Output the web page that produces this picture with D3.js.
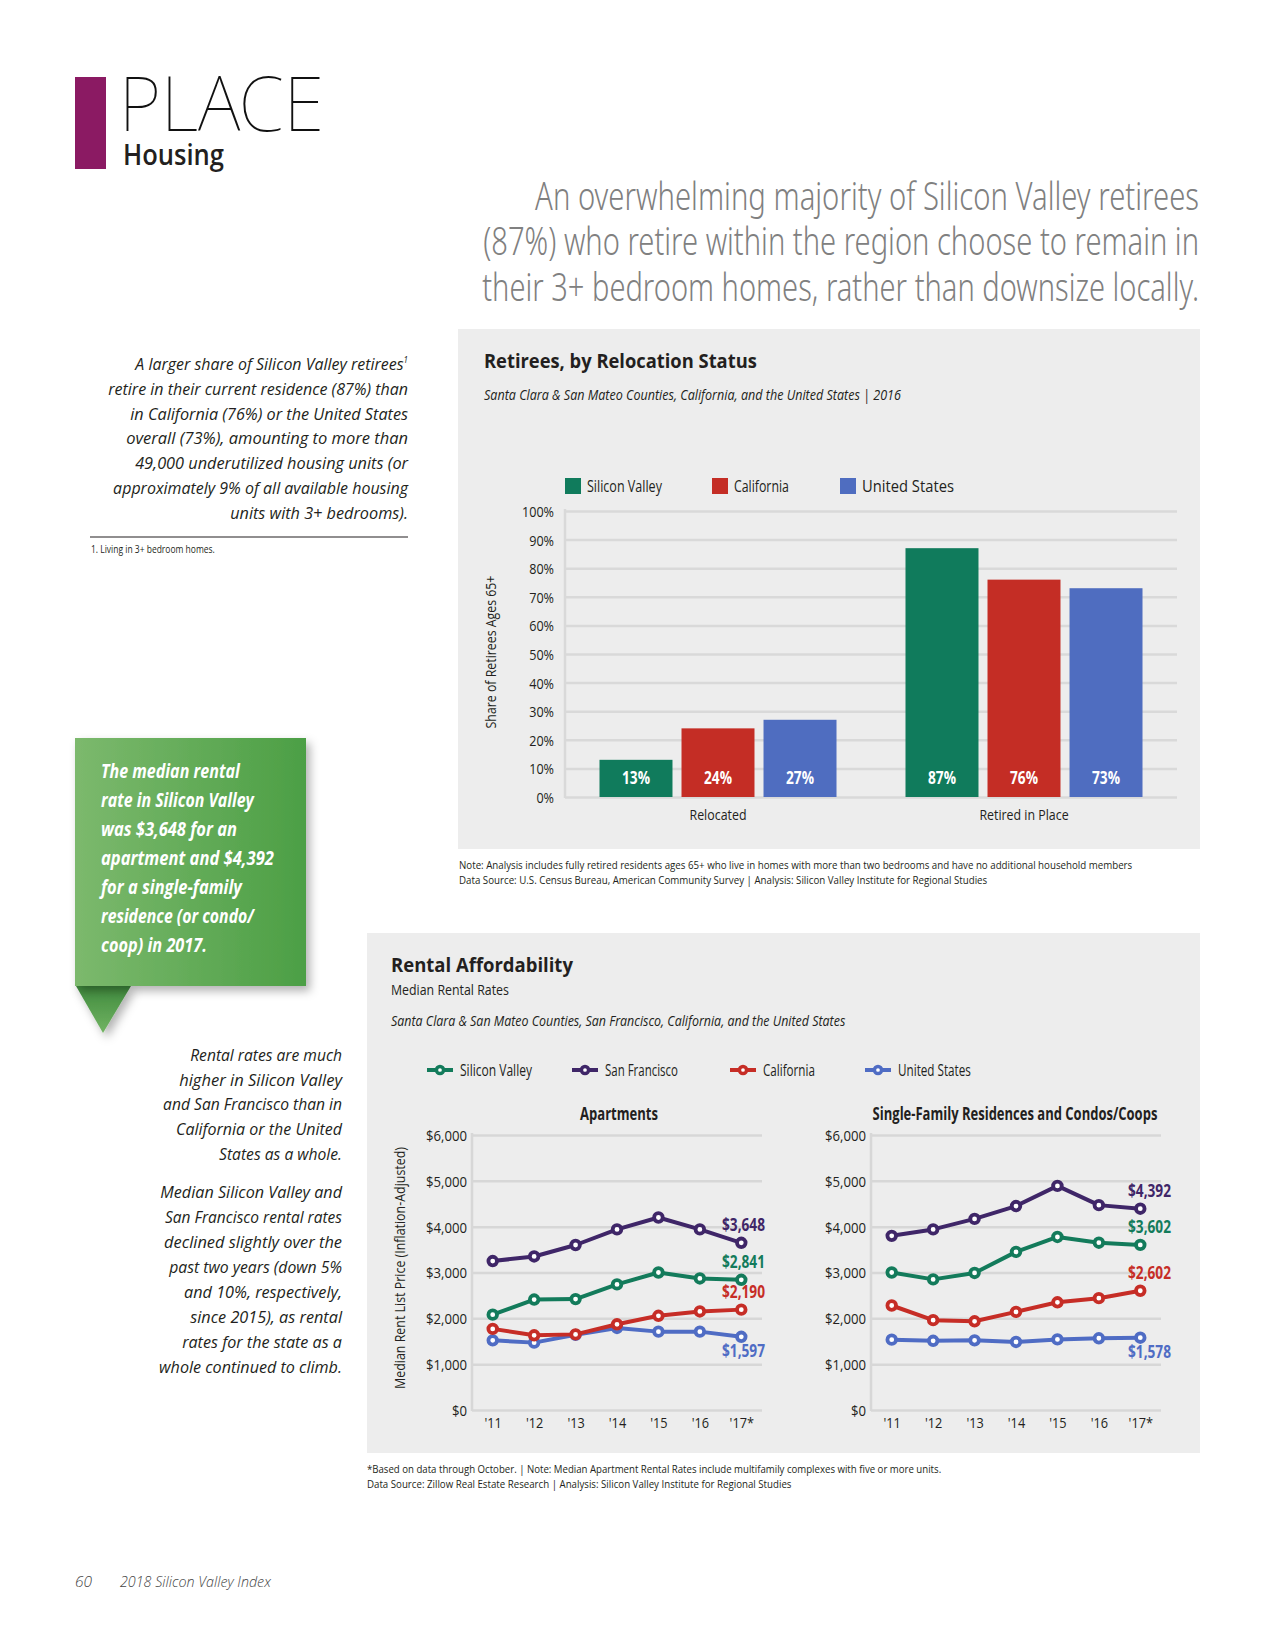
<!DOCTYPE html>
<html><head><meta charset="utf-8">
<script src="https://cdn.jsdelivr.net/npm/d3@7"></script>
<style>body{margin:0;background:#fff}svg{display:block}</style>
</head><body>
<svg id="c" width="1275" height="1650"></svg>
<script>
// ---------- DATA ----------
const barGroups = ["Relocated", "Retired in Place"];
const barSeries = ["Silicon Valley", "California", "United States"];
const barColors = ["#107b5c", "#c42d25", "#4f6dc0"];
const relocatedPct = [13, 24, 27];
const retiredPct = [87, 76, 73];
const pctTicks = [0, 10, 20, 30, 40, 50, 60, 70, 80, 90, 100];

const years = ["'11", "'12", "'13", "'14", "'15", "'16", "'17*"];
const lineSeries = ["Silicon Valley", "San Francisco", "California", "United States"];
const lineColors = ["#137b5b", "#3f2668", "#c62d26", "#4f6cc4"];
const aptSV = [2080, 2410, 2420, 2740, 3000, 2870, 2841];
const aptSF = [3250, 3350, 3600, 3940, 4200, 3940, 3648];
const aptCA = [1770, 1630, 1650, 1870, 2055, 2150, 2190];
const aptUS = [1520, 1470, 1640, 1790, 1710, 1710, 1597];
const sfrSV = [3000, 2850, 2990, 3450, 3775, 3650, 3602];
const sfrSF = [3800, 3940, 4170, 4450, 4890, 4470, 4392];
const sfrCA = [2280, 1960, 1935, 2140, 2350, 2440, 2602];
const sfrUS = [1535, 1510, 1520, 1485, 1540, 1565, 1578];
const rentTicks = [0, 1000, 2000, 3000, 4000, 5000, 6000];

// ---------- HELPERS ----------
const FF = "'Open Sans','Noto Sans',sans-serif";
const svg = d3.select("#c");
svg.append("rect").attr("width", 1275).attr("height", 1650).attr("fill", "#fff");

// horizontal condensing by scaling about the text's anchor point
function scaleNode(node, f) {
  const x = +node.getAttribute("x") || 0, y = +node.getAttribute("y") || 0;
  const pre = node.getAttribute("data-pre") || "";
  node.setAttribute("transform", `${pre} translate(${x},${y}) scale(${f},1) translate(${-x},${-y})`);
}
function fitTo(node, w) { scaleNode(node, w / node.getComputedTextLength()); }
function squeeze(sel, f) { sel.each(function () { scaleNode(this, f); }); }

function T(p, x, y, s, o = {}) {
  const t = p.append("text").attr("x", x).attr("y", y).text(s)
    .attr("font-family", o.ff || FF).attr("font-size", o.fs || 14)
    .attr("font-weight", o.fw || 400).attr("font-style", o.it ? "italic" : "normal")
    .attr("fill", o.fill || "#231f20").attr("text-anchor", o.anchor || "start");
  if (o.pre) t.attr("data-pre", o.pre);
  if (o.sup) t.append("tspan").attr("font-size", (o.fs || 14) * 0.5).attr("dy", -(o.fs || 14) * 0.4).text(o.sup);
  if (o.w) fitTo(t.node(), o.w);
  return t;
}
function measure(s, fs, fw, it, ff) {
  const t = T(svg, -1000, -1000, s, { fs, fw, it, ff });
  const L = t.node().getComputedTextLength(); t.remove(); return L;
}

// ---------- HEADER ----------
svg.append("rect").attr("x", 75).attr("y", 77).attr("width", 31).attr("height", 92).attr("fill", "#8b1a63");
T(svg, 119, 131, "PLACE", { ff: "'Noto Sans',sans-serif", fs: 76, fw: 100, fill: "#111", w: 205 });
T(svg, 123, 165, "Housing", { fs: 28, fw: 600, fill: "#231f20", w: 101 });

const headLines = ["An overwhelming majority of Silicon Valley retirees",
  "(87%) who retire within the region choose to remain in",
  "their 3+ bedroom homes, rather than downsize locally."];
const headW = [664, 716, 717];
headLines.forEach((s, i) => T(svg, 1199, 210 + i * 45.5, s,
  { ff: "'Noto Sans',sans-serif", fs: 38, fw: 300, fill: "#808080", anchor: "end", w: headW[i] }));

// ---------- LEFT PARAGRAPH ----------
const lp = ["A larger share of Silicon Valley retirees", "retire in their current residence (87%) than",
  "in California (76%) or the United States", "overall (73%), amounting to more than",
  "49,000 underutilized housing units (or", "approximately 9% of all available housing",
  "units with 3+ bedrooms)."];
const lpW = [273, 300, 278, 282, 273, 295, 178];
lp.forEach((s, i) => {
  T(svg, 408, 370 + i * 24.8, s, { fs: 16.5, it: true, anchor: "end", w: lpW[i], sup: i === 0 ? "1" : null });
});
svg.append("line").attr("x1", 90).attr("x2", 408).attr("y1", 537).attr("y2", 537).attr("stroke", "#231f20").attr("stroke-width", 1.2);
T(svg, 91, 553, "1. Living in 3+ bedroom homes.", { fs: 10, w: 124 });

// ---------- CALLOUT ----------
const defs = svg.append("defs");
const gg = defs.append("linearGradient").attr("id", "gg").attr("x1", 0).attr("x2", 1).attr("y1", 0).attr("y2", 0);
gg.append("stop").attr("offset", 0).attr("stop-color", "#7cb96d");
gg.append("stop").attr("offset", 1).attr("stop-color", "#4c9f45");
const tg = defs.append("linearGradient").attr("id", "tg").attr("x1", 0).attr("x2", 0).attr("y1", 0).attr("y2", 1);
tg.append("stop").attr("offset", 0).attr("stop-color", "#3f8a3d");
tg.append("stop").attr("offset", 1).attr("stop-color", "#72b463");
const sh = defs.append("filter").attr("id", "sh").attr("x", "-20%").attr("y", "-20%").attr("width", "150%").attr("height", "150%");
sh.append("feDropShadow").attr("dx", 4).attr("dy", 5).attr("stdDeviation", 5).attr("flood-color", "#000").attr("flood-opacity", 0.3);
svg.append("path").attr("d", "M76,986 L131,986 L103,1033 Z").attr("fill", "url(#tg)").attr("filter", "url(#sh)");
svg.append("rect").attr("x", 75).attr("y", 738).attr("width", 231).attr("height", 248).attr("fill", "url(#gg)").attr("filter", "url(#sh)");
const co = ["The median rental", "rate in Silicon Valley", "was $3,648 for an", "apartment and $4,392",
  "for a single-family", "residence (or condo/", "coop) in 2017."];
const coW = [139, 153, 136, 173, 141, 153, 106];
co.forEach((s, i) => T(svg, 101, 778 + i * 29, s, { fs: 20, fw: 700, it: true, fill: "#fff", w: coW[i] }));

// ---------- RIGHT PARAGRAPHS ----------
const rp1 = ["Rental rates are much", "higher in Silicon Valley", "and San Francisco than in", "California or the United", "States as a whole."];
const rp1W = [152, 163, 179, 166, 123];
rp1.forEach((s, i) => T(svg, 342, 1061 + i * 24.75, s, { fs: 16.5, it: true, anchor: "end", w: rp1W[i] }));
const rp2 = ["Median Silicon Valley and", "San Francisco rental rates", "declined slightly over the", "past two years (down 5%",
  "and 10%, respectively,", "since 2015), as rental", "rates for the state as a", "whole continued to climb."];
const rp2W = [182, 177, 178, 173, 158, 152, 160, 183];
rp2.forEach((s, i) => T(svg, 342, 1198 + i * 25, s, { fs: 16.5, it: true, anchor: "end", w: rp2W[i] }));

// ---------- BAR CHART PANEL ----------
svg.append("rect").attr("x", 458).attr("y", 329).attr("width", 742).attr("height", 520).attr("fill", "#ededed");
T(svg, 484, 368, "Retirees, by Relocation Status", { fs: 19.5, fw: 700, w: 273 });
T(svg, 484, 400, "Santa Clara & San Mateo Counties, California, and the United States | 2016", { fs: 15, it: true, w: 417 });

const legBX = [565, 712, 840];
const legBW = [75, 55, 92];
barSeries.forEach((s, i) => {
  svg.append("rect").attr("x", legBX[i]).attr("y", 478).attr("width", 16).attr("height", 16).attr("fill", barColors[i]);
  T(svg, legBX[i] + 22, 492, s, { fs: 16, w: legBW[i] });
});

const bx0 = 565, bx1 = 1177;
const yB = d3.scaleLinear().domain([0, 100]).range([797, 511]);
const xB = d3.scaleBand().domain(barGroups).range([bx0, bx1]);
const grpW = 237;
const xBi = d3.scaleBand().domain(barSeries).range([0, grpW]).paddingInner(0.11);

const gyB = svg.append("g").attr("transform", `translate(${bx0},0)`)
  .call(d3.axisLeft(yB).tickValues(pctTicks).tickSize(-(bx1 - bx0)).tickPadding(11).tickFormat(d => d + "%"));
gyB.select(".domain").remove();
gyB.selectAll(".tick line").attr("stroke", "#d9d9d9").attr("stroke-width", 2.5);
gyB.selectAll(".tick text").attr("font-family", FF).attr("font-size", 15).attr("fill", "#231f20").attr("dy", "0.36em");
squeeze(gyB.selectAll(".tick text"), 32 / measure("100%", 15, 400, false));
svg.append("line").attr("x1", bx0).attr("x2", bx0).attr("y1", 509).attr("y2", 798).attr("stroke", "#d9d9d9").attr("stroke-width", 2.5);

const barData = [relocatedPct, retiredPct];
const vf = 28 / measure("13%", 18, 700, false);
barGroups.forEach((g, gi) => {
  const gx = xB(g) + (xB.bandwidth() - grpW) / 2;
  barSeries.forEach((s, si) => {
    const v = barData[gi][si];
    svg.append("rect").attr("x", gx + xBi(s)).attr("width", xBi.bandwidth())
      .attr("y", yB(v)).attr("height", yB(0) - yB(v)).attr("fill", barColors[si]);
    const t = T(svg, gx + xBi(s) + xBi.bandwidth() / 2, 784, v + "%", { fs: 18, fw: 700, fill: "#fff", anchor: "middle" });
    squeeze(t, vf);
  });
});
const gxB = svg.append("g").attr("transform", "translate(0,797)")
  .call(d3.axisBottom(xB).tickSize(0).tickPadding(0));
gxB.select(".domain").remove();
gxB.selectAll(".tick text").attr("font-family", FF).attr("font-size", 15).attr("fill", "#231f20").attr("dy", 0).attr("y", 23);
squeeze(gxB.selectAll(".tick text"), 57 / measure("Relocated", 15, 400, false));

T(svg, 0, 0, "Share of Retirees Ages 65+", { fs: 15, anchor: "middle", w: 153, pre: "translate(496,652) rotate(-90)" });

T(svg, 459, 869, "Note: Analysis includes fully retired residents ages 65+ who live in homes with more than two bedrooms and have no additional household members", { fs: 11, w: 674 });
T(svg, 459, 884, "Data Source: U.S. Census Bureau, American Community Survey | Analysis: Silicon Valley Institute for Regional Studies", { fs: 11, w: 529 });

// ---------- RENTAL PANEL ----------
svg.append("rect").attr("x", 367).attr("y", 933).attr("width", 833).attr("height", 520).attr("fill", "#ededed");
T(svg, 391, 972, "Rental Affordability", { fs: 19.5, fw: 700, w: 182 });
T(svg, 391, 995, "Median Rental Rates", { fs: 14.5, w: 118 });
T(svg, 391, 1026, "Santa Clara & San Mateo Counties, San Francisco, California, and the United States", { fs: 15, it: true, w: 455 });

const legLX = [427, 572, 730, 865];
const legLW = [72, 73, 52, 73];
lineSeries.forEach((s, i) => {
  const g = svg.append("g");
  g.append("line").attr("x1", legLX[i]).attr("x2", legLX[i] + 26).attr("y1", 1070).attr("y2", 1070)
    .attr("stroke", lineColors[i]).attr("stroke-width", 4);
  g.append("circle").attr("cx", legLX[i] + 13).attr("cy", 1070).attr("r", 3.6)
    .attr("fill", "#fff").attr("stroke", lineColors[i]).attr("stroke-width", 3.5);
  T(svg, legLX[i] + 33, 1076, s, { fs: 16, w: legLW[i] });
});

T(svg, 0, 0, "Median Rent List Price (Inflation-Adjusted)", { fs: 15, anchor: "middle", w: 242, pre: "translate(405,1268) rotate(-90)" });

function rentChart(left, right, title, titleW, titleDx, series, labelRight) {
  const x = d3.scalePoint().domain(years).range([left, right]).padding(0.5);
  const y = d3.scaleLinear().domain([0, 6000]).range([1410, 1135]);
  T(svg, (left + right) / 2 + titleDx, 1120, title, { fs: 17, fw: 700, anchor: "middle", w: titleW });
  const gy = svg.append("g").attr("transform", `translate(${left},0)`)
    .call(d3.axisLeft(y).tickValues(rentTicks).tickSize(-(right - left)).tickPadding(5).tickFormat(d3.format("$,")));
  gy.select(".domain").remove();
  gy.selectAll(".tick line").attr("stroke", "#d7d7d7").attr("stroke-width", 2.5);
  gy.selectAll(".tick text").attr("font-family", FF).attr("font-size", 15).attr("fill", "#231f20").attr("dy", "0.36em");
  squeeze(gy.selectAll(".tick text"), 41 / measure("$6,000", 15, 400, false));
  svg.append("line").attr("x1", left).attr("x2", left).attr("y1", 1133).attr("y2", 1411).attr("stroke", "#d7d7d7").attr("stroke-width", 2.5);
  const gx = svg.append("g").attr("transform", "translate(0,1410)")
    .call(d3.axisBottom(x).tickSize(0).tickPadding(0));
  gx.select(".domain").remove();
  gx.selectAll(".tick text").attr("font-family", FF).attr("font-size", 15).attr("fill", "#231f20").attr("dy", 0).attr("y", 18);
  squeeze(gx.selectAll(".tick text"), 0.85);

  const line = d3.line().x((d, i) => x(years[i])).y(d => y(d));
  const order = [3, 2, 0, 1];
  order.forEach(si => {
    const vals = series[si];
    svg.append("path").attr("d", line(vals)).attr("fill", "none")
      .attr("stroke", lineColors[si]).attr("stroke-width", 4).attr("stroke-linejoin", "round");
    svg.append("g").selectAll("circle").data(vals).join("circle")
      .attr("cx", (d, i) => x(years[i])).attr("cy", d => y(d)).attr("r", 4.3)
      .attr("fill", "#fff").attr("stroke", lineColors[si]).attr("stroke-width", 3.8);
  });
  const lf = 43 / measure("$3,648", 17.5, 700, false);
  series.forEach((vals, si) => {
    const last = vals[vals.length - 1];
    const off = si === 3 ? 20 : -12;
    const t = T(svg, labelRight, y(last) + off, d3.format("$,")(last), { fs: 17.5, fw: 700, fill: lineColors[si], anchor: "end" });
    squeeze(t, lf);
  });
}
rentChart(472, 762, "Apartments", 78, 2, [aptSV, aptSF, aptCA, aptUS], 765);
rentChart(871, 1161, "Single-Family Residences and Condos/Coops", 285, -1, [sfrSV, sfrSF, sfrCA, sfrUS], 1171);

T(svg, 367, 1473, "*Based on data through October. | Note: Median Apartment Rental Rates include multifamily complexes with five or more units.", { fs: 11, w: 575 });
T(svg, 367, 1488, "Data Source: Zillow Real Estate Research | Analysis: Silicon Valley Institute for Regional Studies", { fs: 11, w: 425 });

// ---------- FOOTER ----------
T(svg, 75, 1587, "60", { fs: 15, it: true, fw: 300, fill: "#444", w: 17 });
T(svg, 120, 1587, "2018 Silicon Valley Index", { fs: 15, it: true, fw: 300, fill: "#444", w: 151 });
</script>
</body></html>
